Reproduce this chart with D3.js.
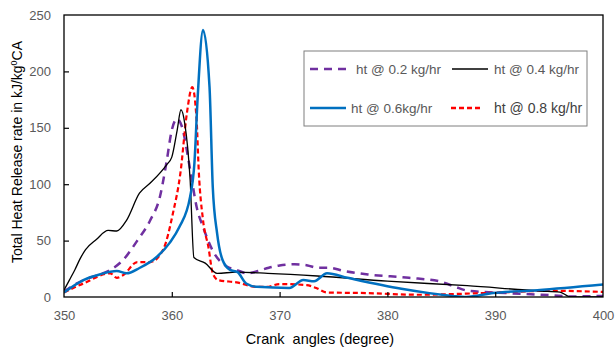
<!DOCTYPE html>
<html><head><meta charset="utf-8">
<script src="https://cdn.jsdelivr.net/npm/d3@7"></script>
<style>body{margin:0;background:#fff}svg{display:block}text{font-family:"Liberation Sans",Arial,sans-serif}</style>
</head><body><svg id="c" width="615" height="349"></svg>
<script>
const xTicks=[350,360,370,380,390,400];
const yTicks=[0,50,100,150,200,250];
const seriesNames=["ht @ 0.2 kg/hr","ht @ 0.4 kg/hr","ht @ 0.6kg/hr","ht @ 0.8 kg/hr"];
const s02=[[350,5],[351,11],[351.8,15],[353,19],[354.3,24],[355.5,33],[356.8,50],[358,68],[358.9,89],[359.5,119],[360,148],[360.5,158],[360.9,152],[361.7,113],[362.3,80],[362.9,62],[363.8,41],[365.1,27],[366,24],[367,21],[368,23],[369,26],[370,28],[371.4,29],[372.6,28],[373.5,26],[374.5,26],[376,23],[378.2,20],[382,17],[385,13.5],[386.3,9],[387.5,5.5],[391,3.5],[395.3,1.5],[397,0.5],[400,1]];
const s04=[[350,6],[350.5,15],[351,24],[351.5,34],[352,42],[353,51],[354.1,59],[354.9,58.5],[355.8,68],[357,92],[358,101],[359.5,117],[360,124],[360.5,148],[360.85,166],[361.2,154],[361.7,104],[362.05,35],[363.1,30],[364.2,21],[366,22],[368.9,21],[373.5,18.6],[380,14],[387.4,10],[394.2,5.3],[396,4.4],[397,0],[400,0]];
const s06=[[350,4],[351.8,15],[353.3,20],[354.9,23],[355.8,21],[357,25.7],[358.6,35.5],[359.8,48],[360.7,62],[361.7,89],[362.1,119],[362.4,177],[362.9,236.7],[363.5,186],[363.8,97.5],[364.2,56.7],[364.7,33],[365.4,24],[366.1,22],[366.9,12],[367.9,9],[370.9,8],[372.2,15],[373.2,14],[374.4,21],[376.3,17],[381.3,7.3],[386,1],[387.3,0],[389.8,3.5],[393.9,6],[400,11]];
const s08=[[350,4],[351.8,12],[354.3,21],[354.9,17],[355.5,19.5],[356.8,31],[358,31],[359.2,42],[360.1,74],[360.8,110],[361.4,163],[361.9,186],[362.3,157],[362.5,112],[362.9,68],[363.4,44],[363.8,21],[364.3,15],[366,13],[367.9,9],[368.8,9],[370,11.5],[372.5,10.6],[373.4,8],[374.4,4],[378,3.5],[382.8,2],[389,3.5],[395.3,5.5],[400,4.5]];
const seriesData=[s02,s04,s06,s08];
const colors=["#7030A0","#000000","#0070C0","#FF0000"];
const widths=[2.5,1.3,2.5,2.2];
const dashes=["8,6",null,null,"5,3"];

const svg=d3.select("#c");
const L=64,R=603,T=15,B=297;
const x=d3.scaleLinear().domain([350,400]).range([L,R]);
const y=d3.scaleLinear().domain([0,250]).range([B,T]);

svg.append("defs").append("clipPath").attr("id","cp").append("rect").attr("x",L).attr("y",T).attr("width",R-L).attr("height",B-T);

const line=d3.line().x(d=>x(d[0])).y(d=>y(d[1])).curve(d3.curveMonotoneX);
const g=svg.append("g").attr("clip-path","url(#cp)");
[0,3,1,2].forEach(i=>{
  g.append("path").attr("d",line(seriesData[i])).attr("fill","none").attr("stroke",colors[i]).attr("stroke-width",widths[i]).attr("stroke-dasharray",dashes[i]);
});

// frame
svg.append("rect").attr("x",L).attr("y",T).attr("width",R-L).attr("height",B-T).attr("fill","none").attr("stroke","#000").attr("stroke-width",1.3);

// axes
const ya=d3.axisLeft(y).tickValues(yTicks).tickSize(-5).tickPadding(13);
const yg=svg.append("g").attr("transform",`translate(${L},0)`).call(ya);
const xa=d3.axisBottom(x).tickValues(xTicks).tickSize(-5).tickPadding(14);
const xg=svg.append("g").attr("transform",`translate(0,${B})`).call(xa);
[yg,xg].forEach(a=>{a.select(".domain").remove();a.selectAll(".tick line").attr("stroke","#000").attr("stroke-width",1.2);a.selectAll(".tick text").attr("fill","#595959").style("font-size","13px").style("font-family","'Liberation Sans',Arial,sans-serif");});
xg.selectAll(".tick").filter(d=>d===350||d===400).select("line").remove();
yg.selectAll(".tick").filter(d=>d===0||d===250).select("line").remove();

// titles
svg.append("text").attr("x",320).attr("y",344).attr("text-anchor","middle").style("font-size","14.5px").style("white-space","pre").attr("fill","#000").text("Crank  angles (degree)");
const yt=svg.append("text").attr("transform","translate(22,152) rotate(-90)").attr("text-anchor","middle").style("font-size","14px").attr("fill","#000");
yt.append("tspan").text("Total Heat Release rate in kJ/kg");
yt.append("tspan").attr("dy",-5).style("font-size","9px").text("0");
yt.append("tspan").attr("dy",5).text("CA");

// legend
const lg=svg.append("g");
lg.append("rect").attr("x",304).attr("y",51).attr("width",283).attr("height",75).attr("fill","#fff").attr("stroke","#7f7f7f").attr("stroke-width",1);
const leg=[{i:0,x1:310,x2:348,tx:356,y:69,fs:13.5},{i:1,x1:452,x2:488,tx:494,y:69,fs:13.5},{i:2,x1:310,x2:346,tx:351,y:108,fs:13.5},{i:3,x1:451,x2:482,tx:494,y:108,fs:14}];
leg.forEach(e=>{
  lg.append("line").attr("x1",e.x1).attr("x2",e.x2).attr("y1",e.y).attr("y2",e.y).attr("stroke",colors[e.i]).attr("stroke-width",e.i===1?1.5:2.5).attr("stroke-dasharray",dashes[e.i]);
  lg.append("text").attr("x",e.tx).attr("y",e.y+4.5).style("font-size",e.fs+"px").attr("fill",e.i===3?"#404040":"#595959").text(seriesNames[e.i]);
});
</script></body></html>
